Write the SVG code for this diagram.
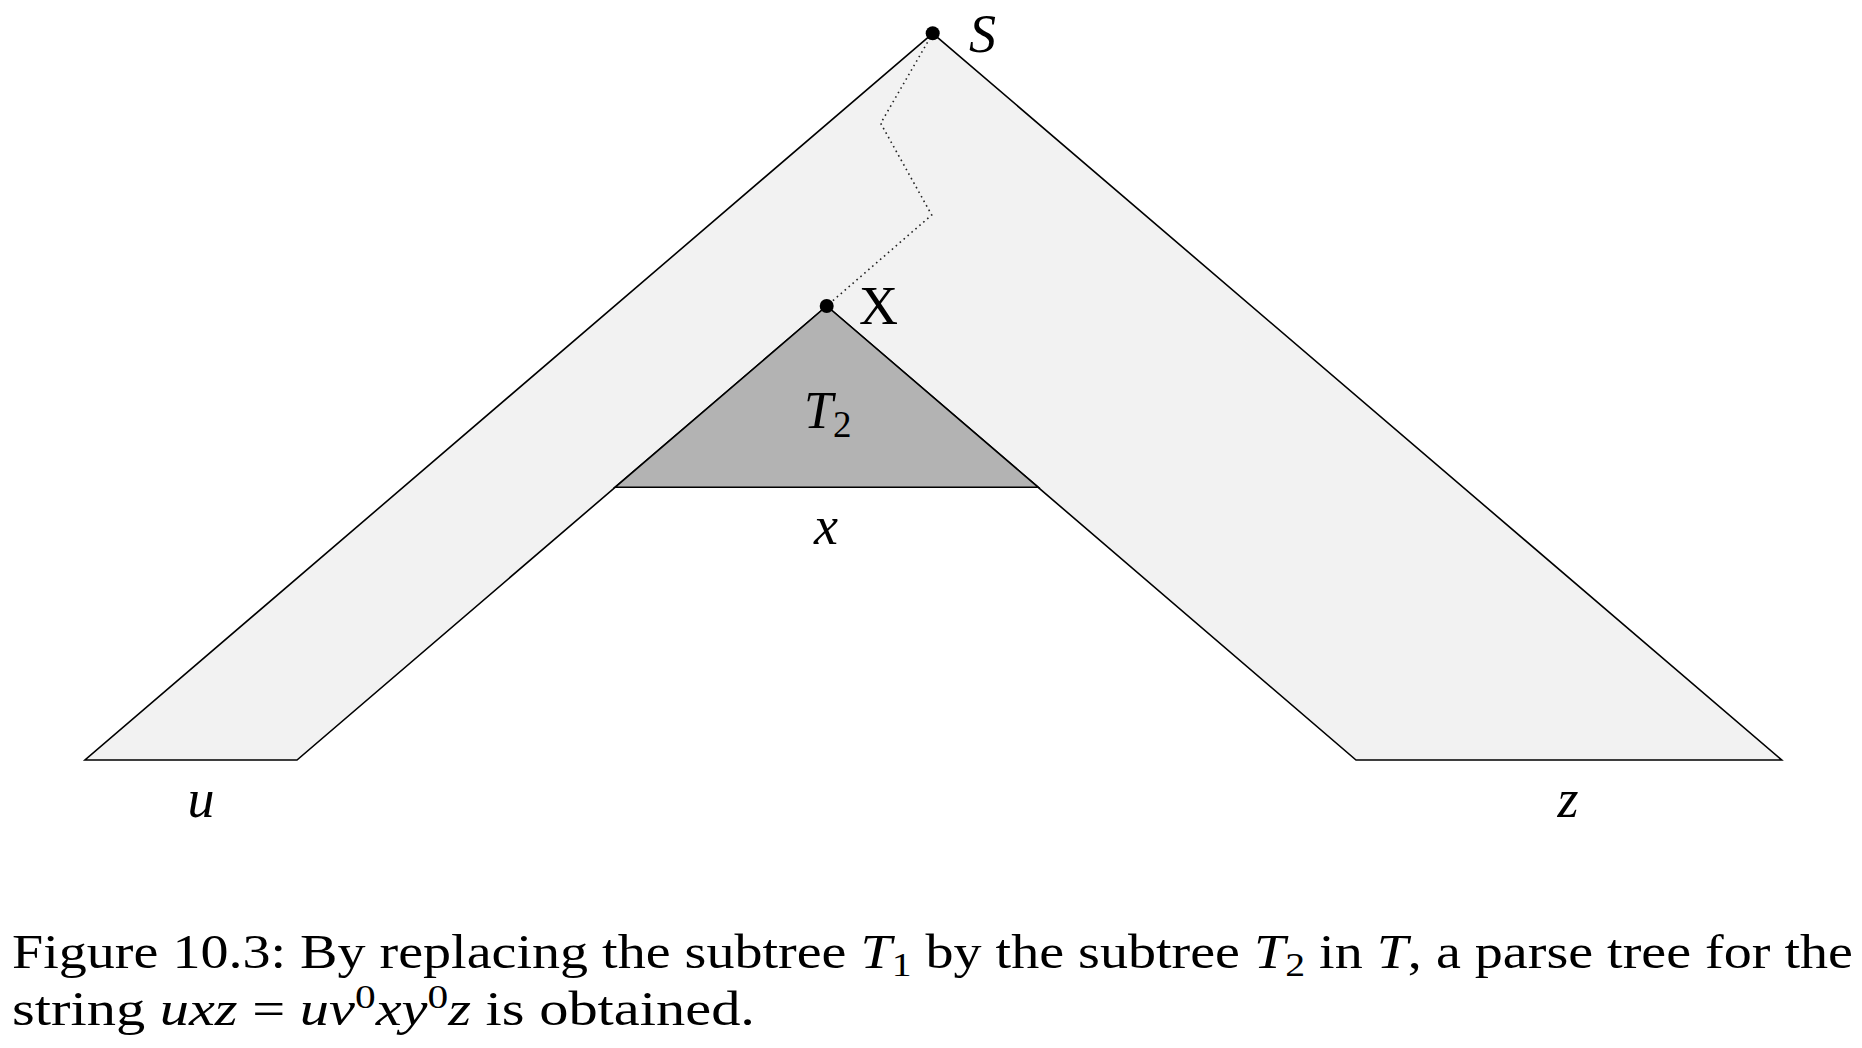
<svg xmlns="http://www.w3.org/2000/svg" width="1862" height="1048" viewBox="0 0 1862 1048">
  <style>
    .serif { font-family: "Liberation Serif", "Times New Roman", serif; fill: #000; }
    .it { font-style: italic; }
    .lbl { font-size: 54px; }
    .cap { font-size: 48px; }
    .outline { stroke: #000; stroke-width: 1.6; stroke-linejoin: miter; }
    .dot { fill: #000; }
    .path { fill: none; stroke: #222; stroke-width: 1.6; stroke-dasharray: 1.6 3.6; }
  </style>
  <rect width="1862" height="1048" fill="#fff"/>

  <g id="tree-T">
    <polygon class="outline" fill="#f2f2f2" points="932.7,33.3 85,760 297,760 826.7,306 1356,760 1781.7,760"/>
  </g>

  <g id="subtree-T2">
    <polygon class="outline" fill="#b3b3b3" points="826.7,306 615,487.3 1038.3,487.3"/>
    <text class="serif" x="804" y="428" font-size="52"><tspan class="it">T</tspan><tspan font-size="37" dy="9">2</tspan></text>
  </g>

  <g id="connectors">
    <polyline class="path" points="932.7,33.3 880.7,123.3 931.7,215 826.7,306"/>
  </g>

  <g id="node-S">
    <circle class="dot" cx="932.7" cy="33.3" r="7"/>
    <text class="serif it" x="969" y="52" font-size="54">S</text>
  </g>

  <g id="node-X">
    <circle class="dot" cx="826.7" cy="306" r="7"/>
    <text class="serif" x="859" y="324" font-size="54">X</text>
  </g>

  <g id="label-x">
    <text class="serif it lbl" x="826" y="544" text-anchor="middle">x</text>
  </g>
  <g id="label-u">
    <text class="serif it lbl" x="201" y="817" text-anchor="middle">u</text>
  </g>
  <g id="label-z">
    <text class="serif it lbl" x="1568" y="817" text-anchor="middle">z</text>
  </g>

  <g id="caption">
    <text class="serif cap" x="12" y="968" textLength="1841" lengthAdjust="spacingAndGlyphs">Figure 10.3: By replacing the subtree <tspan class="it">T</tspan><tspan font-size="34" dy="8">1</tspan><tspan dy="-8"> by the subtree </tspan><tspan class="it">T</tspan><tspan font-size="34" dy="8">2</tspan><tspan dy="-8"> in </tspan><tspan class="it">T</tspan>, a parse tree for the</text>
    <text class="serif cap" x="12" y="1025" textLength="743" lengthAdjust="spacingAndGlyphs">string <tspan class="it">uxz</tspan> = <tspan class="it">uv</tspan><tspan font-size="34" dy="-17">0</tspan><tspan class="it" dy="17">xy</tspan><tspan font-size="34" dy="-17">0</tspan><tspan class="it" dy="17">z</tspan> is obtained.</text>
  </g>
</svg>
